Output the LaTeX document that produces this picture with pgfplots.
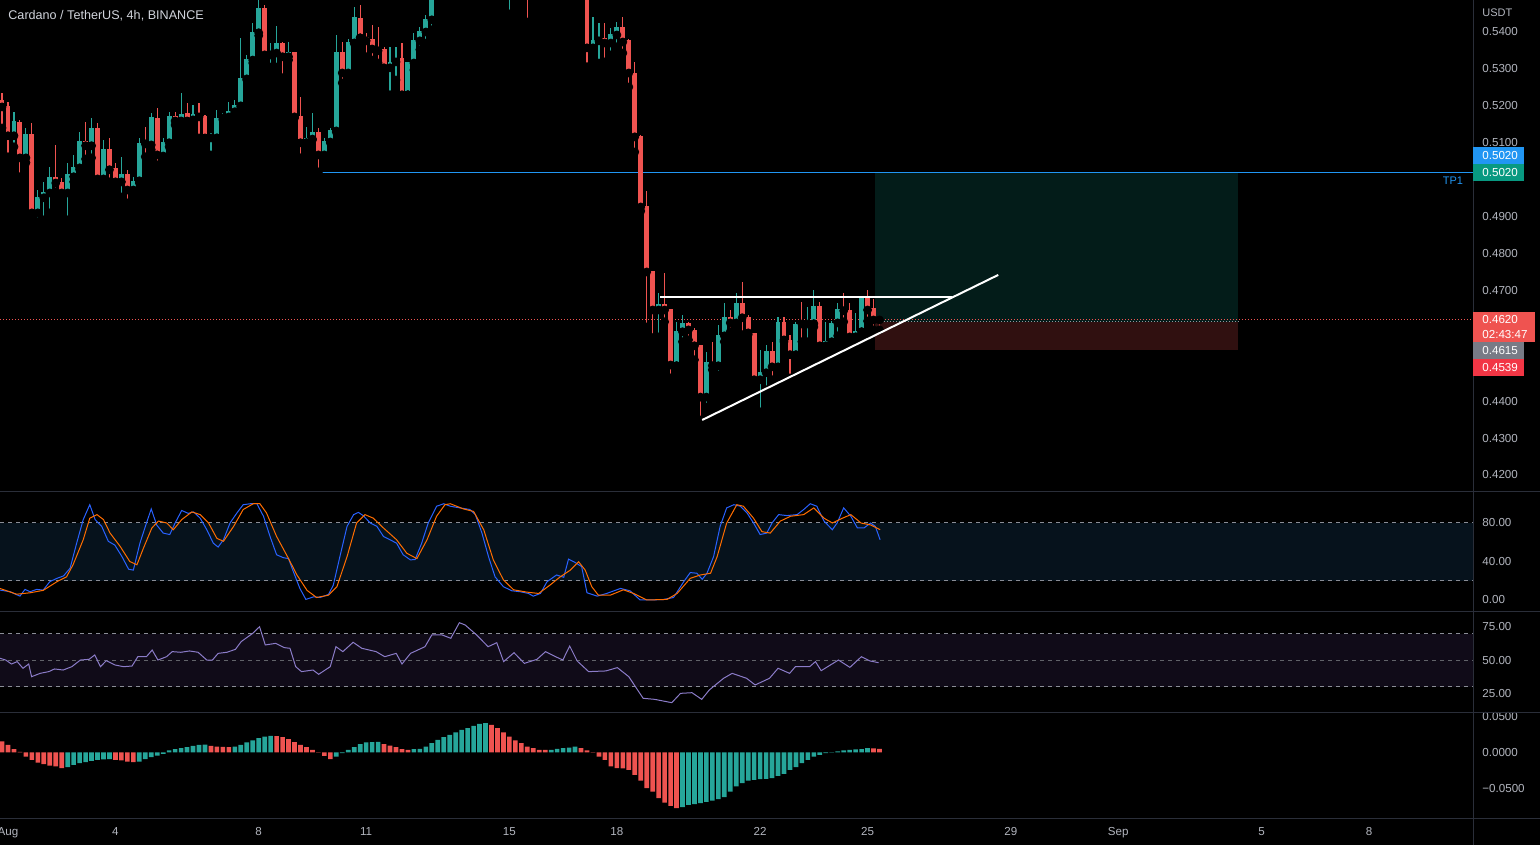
\documentclass[border=0pt]{standalone}
\usepackage{pgfplots}
\pgfplotsset{compat=1.18}
\usepackage{pgfplotstable}
\usepackage{fontspec}
\setmainfont{Liberation Sans}
\definecolor{upc}{HTML}{26A69A}
\definecolor{dnc}{HTML}{EF5350}
\definecolor{lbl}{HTML}{B2B5BE}
\definecolor{titlec}{HTML}{D1D4DC}
\definecolor{sepc}{HTML}{2A2E39}
\definecolor{tpblue}{HTML}{2196F3}
\definecolor{tagg}{HTML}{089981}
\definecolor{taggray}{HTML}{787B86}
\definecolor{tagred}{HTML}{F23645}
\definecolor{boxg}{HTML}{031C19}
\definecolor{boxr}{HTML}{301010}
\definecolor{stfill}{HTML}{06121C}
\definecolor{rsifill}{HTML}{100B18}
\definecolor{kblue}{HTML}{2962FF}
\definecolor{dorange}{HTML}{FF6D00}
\definecolor{rsil}{HTML}{8B7CC8}
\definecolor{dashc}{HTML}{8A8D96}

\pgfplotstableread{
i o h l c
1 .5119 .5184 .5089 .5159
3 .5059 .5140 .5046 .5124
5 .4910 .4972 .4886 .4953
6 .4951 .4994 .4891 .4967
7 .4964 .5035 .4910 .5008
10 .4964 .5046 .4891 .5016
11 .5008 .5067 .4994 .5035
12 .5032 .5129 .5027 .5105
14 .5092 .5167 .5059 .5140
16 .5002 .5108 .4994 .5083
19 .4994 .5062 .4953 .5016
21 .4972 .5008 .4964 .4997
22 .4997 .5113 .4991 .5100
24 .5094 .5181 .5081 .5170
26 .5064 .5113 .5056 .5102
27 .5100 .5184 .5089 .5173
29 .5159 .5235 .5148 .5178
31 .5162 .5203 .5151 .5178
34 .5113 .5127 .5067 .5116
35 .5113 .5189 .5113 .5167
36 .5167 .5181 .5162 .5170
37 .5170 .5211 .5167 .5186
38 .5184 .5216 .5181 .5203
39 .5200 .5384 .5197 .5276
40 .5273 .5338 .5270 .5327
41 .5324 .5425 .5316 .5400
42 .5398 .5500 .5390 .5465
44 .5338 .5370 .5305 .5346
45 .5343 .5417 .5305 .5370
47 .5333 .5373 .5324 .5346
50 .5100 .5143 .5100 .5113
51 .5110 .5181 .5108 .5129
53 .5067 .5113 .5062 .5105
54 .5102 .5140 .5100 .5135
55 .5132 .5392 .5129 .5346
57 .5289 .5381 .5286 .5373
58 .5370 .5468 .5370 .5441
64 .5303 .5360 .5230 .5319
65 .5319 .5360 .5270 .5330
67 .5230 .5319 .5230 .5319
68 .5316 .5398 .5297 .5379
69 .5376 .5414 .5352 .5403
70 .5400 .5446 .5370 .5436
71 .5433 .5530 .5406 .5510
72 .5510 .5580 .5500 .5560
74 .5545 .5640 .5530 .5620
75 .5620 .5720 .5600 .5700
77 .5660 .5710 .5630 .5690
79 .5650 .5750 .5640 .5730
80 .5730 .5830 .5710 .5800
84 .5560 .5640 .5449 .5600
85 .5600 .5680 .5580 .5650
88 .5540 .5600 .5476 .5570
89 .5570 .5620 .5476 .5600
91 .5580 .5640 .5560 .5620
93 .5600 .5630 .5560 .5610
98 .5357 .5441 .5338 .5379
99 .5376 .5425 .5316 .5384
101 .5370 .5411 .5338 .5395
102 .5392 .5427 .5360 .5414
109 .4647 .4693 .4574 .4663
112 .4496 .4615 .4496 .4590
113 .4588 .4634 .4561 .4612
117 .4411 .4534 .4384 .4506
119 .4496 .4607 .4471 .4580
120 .4577 .4666 .4561 .4628
122 .4612 .4693 .4593 .4666
126 .4458 .4539 .4371 .4479
127 .4477 .4553 .4431 .4536
129 .4493 .4628 .4490 .4615
132 .4526 .4615 .4523 .4610
134 .4609 .4656 .4561 .4612
135 .4610 .4701 .4601 .4658
137 .4550 .4615 .4545 .4563
138 .4561 .4617 .4558 .4612
139 .4612 .4666 .4577 .4650
142 .4574 .4639 .4574 .4590
143 .4588 .4685 .4588 .4685
}\upT

\pgfplotstableread{
i o h l c
-1 .5216 .5235 .5140 .5197
0 .5200 .5211 .5062 .5119
2 .5157 .5162 .5008 .5059
4 .5124 .5154 .4899 .4910
8 .5008 .5094 .4967 .4991
9 .4994 .5005 .4945 .4964
13 .5105 .5157 .5056 .5092
15 .5140 .5154 .4986 .5002
17 .5083 .5113 .4994 .5027
18 .5032 .5046 .4981 .4994
20 .5016 .5027 .4937 .4972
23 .5100 .5143 .5062 .5097
25 .5167 .5194 .5040 .5067
28 .5173 .5184 .5148 .5159
30 .5181 .5208 .5151 .5159
32 .5178 .5208 .5113 .5170
33 .5173 .5176 .5108 .5113
43 .5465 .5473 .5327 .5338
46 .5370 .5373 .5276 .5333
48 .5346 .5346 .5167 .5170
49 .5173 .5224 .5059 .5100
52 .5129 .5140 .5021 .5067
56 .5346 .5373 .5262 .5289
59 .5438 .5473 .5384 .5384
60 .5387 .5398 .5333 .5376
61 .5381 .5419 .5324 .5354
62 .5357 .5414 .5316 .5349
63 .5354 .5360 .5289 .5303
66 .5330 .5370 .5208 .5230
73 .5560 .5590 .5520 .5545
76 .5700 .5740 .5640 .5660
78 .5690 .5720 .5620 .5650
81 .5800 .5820 .5700 .5760
82 .5760 .5770 .5600 .5650
83 .5650 .5660 .5479 .5560
86 .5650 .5670 .5540 .5580
87 .5580 .5600 .5427 .5540
90 .5600 .5630 .5540 .5580
92 .5620 .5650 .5570 .5600
94 .5610 .5640 .5560 .5590
95 .5590 .5610 .5530 .5570
96 .5570 .5590 .5510 .5540
97 .5540 .5560 .5306 .5357
100 .5384 .5425 .5319 .5370
103 .5414 .5441 .5343 .5373
104 .5379 .5381 .5251 .5289
105 .5289 .5319 .5075 .5116
106 .5119 .5121 .4915 .4926
107 .4929 .4970 .4601 .4750
108 .4753 .4753 .4572 .4647
110 .4663 .4747 .4615 .4647
111 .4650 .4650 .4463 .4498
114 .4612 .4615 .4566 .4593
115 .4593 .4598 .4512 .4550
116 .4553 .4553 .4349 .4411
118 .4506 .4561 .4485 .4496
121 .4628 .4647 .4588 .4612
123 .4666 .4723 .4580 .4626
124 .4628 .4634 .4580 .4585
125 .4585 .4585 .4452 .4458
128 .4536 .4561 .4458 .4493
130 .4615 .4628 .4561 .4566
131 .4566 .4580 .4463 .4526
133 .4612 .4669 .4561 .4609
136 .4658 .4669 .4539 .4550
140 .4653 .4693 .4615 .4645
141 .4647 .4666 .4566 .4574
144 .4685 .4701 .4617 .4647
145 .4653 .4677 .4593 .4620
146 .4623 .4626 .4593 .4620
}\dnT

\pgfplotstableread{
i v
10 -0.0204
11 -0.0171
12 -0.0149
13 -0.0135
14 -0.0115
15 -0.0101
16 -0.0097
17 -0.0093
22 -0.0125
23 -0.0093
24 -0.0065
25 -0.0042
26 -0.0018
27 0.0028
28 0.0046
29 0.0060
30 0.0074
31 0.0093
32 0.0107
33 0.0111
38 0.0083
39 0.0107
40 0.0139
41 0.0167
42 0.0199
43 0.0222
44 0.0232
55 -0.0056
56 -0.0010
57 0.0038
58 0.0074
59 0.0115
60 0.0139
61 0.0143
62 0.0146
68 0.0046
69 0.0051
70 0.0083
71 0.0129
72 0.0176
73 0.0213
74 0.0246
75 0.0278
76 0.0315
77 0.0338
78 0.0371
79 0.0399
80 0.0407
91 0.0038
92 0.0051
93 0.0060
94 0.0069
95 0.0083
113 -0.0760
114 -0.0726
115 -0.0718
116 -0.0704
117 -0.0685
118 -0.0667
119 -0.0649
120 -0.0621
121 -0.0542
122 -0.0472
123 -0.0426
124 -0.0389
125 -0.0379
126 -0.0371
127 -0.0368
128 -0.0357
129 -0.0324
130 -0.0296
131 -0.0240
132 -0.0204
133 -0.0149
134 -0.0101
135 -0.0056
136 -0.0032
137 -0.0010
138 0.0004
139 0.0014
140 0.0028
141 0.0038
142 0.0042
143 0.0046
144 0.0060
}\macdUp

\pgfplotstableread{
i v
-1 0.0153
0 0.0107
1 0.0046
2 0.0010
3 -0.0056
4 -0.0101
5 -0.0139
6 -0.0163
7 -0.0181
8 -0.0194
9 -0.0218
18 -0.0101
19 -0.0111
20 -0.0125
21 -0.0135
34 0.0093
35 0.0083
36 0.0079
37 0.0074
45 0.0226
46 0.0213
47 0.0185
48 0.0143
49 0.0107
50 0.0074
51 0.0038
52 0.0004
53 -0.0046
54 -0.0093
63 0.0115
64 0.0097
65 0.0074
66 0.0046
67 0.0038
81 0.0385
82 0.0338
83 0.0278
84 0.0222
85 0.0167
86 0.0129
87 0.0083
88 0.0060
89 0.0038
90 0.0035
96 0.0060
97 0.0028
98 0.0004
99 -0.0056
100 -0.0101
101 -0.0194
102 -0.0218
103 -0.0222
104 -0.0240
105 -0.0310
106 -0.0389
107 -0.0496
108 -0.0542
109 -0.0635
110 -0.0695
111 -0.0740
112 -0.0774
145 0.0057
146 0.0051
}\macdDn

\pgfplotsset{
  panel/.style={
    scale only axis, width=736.5pt,
    xmin=-1.340, xmax=245.43,
    axis line style={draw=none},
    xtick=\empty,
    major tick length=0pt,
    ytick style={draw=none},
    xtick style={draw=none},
    scaled y ticks=false,
    scaled x ticks=false,
    yticklabel pos=right,
    tick label style={font=\fontsize{5.8}{7}\selectfont, text=lbl},
    yticklabel style={anchor=west, inner sep=0pt, xshift=4.5pt},
    clip=true,
  },
  wick/.style={only marks, mark=none, error bars/.cd, y dir=plus, y explicit,
    error mark=none, error bar style={line width=0.55pt, color=#1}},
  body/.style={only marks, mark=none, error bars/.cd, y dir=plus, y explicit,
    error mark=none, error bar style={line width=2.45pt, color=#1}},
}

\begin{document}
\begin{tikzpicture}
\fill[black] (0,0) rectangle (770pt,422.5pt);

% ---------- main price panel ----------
\begin{axis}[panel, at={(0pt,177pt)}, anchor=south west, height=245.5pt,
  ymin=0.415666, ymax=0.548668,
  ytick={0.42,0.43,0.44,0.47,0.48,0.49,0.51,0.52,0.53,0.54},
  yticklabels={0.4200,0.4300,0.4400,0.4700,0.4800,0.4900,0.5100,0.5200,0.5300,0.5400}]
% long position box
\addplot[fill=boxg, draw=none] coordinates {(145.25,0.4615) (206.07,0.4615) (206.07,0.5020) (145.25,0.5020)} -- cycle;
\addplot[fill=boxr, draw=none] coordinates {(145.25,0.4539) (206.07,0.4539) (206.07,0.4615) (145.25,0.4615)} -- cycle;
% TP1 line
\addplot[tpblue, line width=0.5pt] coordinates {(51.9,0.5020) (245.43,0.5020)};
% current price dotted line
\addplot[dnc, line width=0.5pt, dash pattern=on 0.5pt off 1pt] coordinates {(-1.34,0.4620) (245.43,0.4620)};
\addplot[taggray!80!white, line width=0.5pt, dash pattern=on 0.5pt off 1pt] coordinates {(145.25,0.4615) (206.07,0.4615)};
% candles
\addplot[wick=upc] table[x=i, y=l, y error plus expr=\thisrow{h}-\thisrow{l}] {\upT};
\addplot[body=upc] table[x=i, y=o, y error plus expr=\thisrow{c}-\thisrow{o}] {\upT};
\addplot[wick=dnc] table[x=i, y=l, y error plus expr=\thisrow{h}-\thisrow{l}] {\dnT};
\addplot[body=dnc] table[x=i, y=c, y error plus expr=\thisrow{o}-\thisrow{c}] {\dnT};
\end{axis}

% overlay axis for drawn trend lines (on top of candles)
\begin{axis}[panel, at={(0pt,177pt)}, anchor=south west, height=245.5pt,
  ymin=0.415666, ymax=0.548668, ytick=\empty]
\addplot[white, line width=1pt] coordinates {(109.3,0.4683) (158.2,0.4683)};
\addplot[white, line width=1pt] coordinates {(116.3,0.4349) (165.9,0.4742)};
\end{axis}

% ---------- stochastic RSI ----------
\begin{axis}[panel, at={(0pt,117pt)}, anchor=south west, height=59.5pt,
  ymin=-11.43, ymax=112.2,
  ytick={0,40,80}, yticklabels={0.00,40.00,80.00}]
\addplot[fill=stfill, draw=none] coordinates {(-1.34,20) (245.43,20) (245.43,80) (-1.34,80)} -- cycle;
\addplot[dashc, line width=0.5pt, dash pattern=on 2pt off 2pt] coordinates {(-1.34,80) (245.43,80)};
\addplot[dashc, line width=0.5pt, dash pattern=on 2pt off 2pt] coordinates {(-1.34,20) (245.43,20)};
\addplot[kblue, line width=0.5pt] coordinates {
(-1.34,10.3) (0.34,8.6) (2.0,4) (2.85,11) (3.7,8.6) (4.8,11) (5.9,10.3) (7.0,19) (8.2,22.5) (9.3,25)
(10.4,33) (11.5,59) (12.6,83.5) (13.7,99) (14.6,83.5) (15.7,76.5) (16.8,61) (17.9,57) (19.1,45) (20.2,32)
(21.0,31) (22.1,59) (23.2,80) (24.0,94.6) (24.9,78) (26.0,69.5) (27.1,68) (28.0,80) (29.1,93) (30.2,90)
(31.1,91.5) (32.2,85) (33.3,73) (34.4,59) (35.2,55) (36.1,62.6) (37.2,80) (38.3,90) (39.4,99) (40.6,100)
(41.7,100) (42.8,87) (43.9,66) (45.0,47) (46.1,44) (47.0,43) (47.8,29.5) (48.9,12) (49.9,0.6) (51.2,3.3)
(52.3,2.6) (53.7,5.8) (54.5,15.5) (55.6,45) (56.8,76.5) (57.9,88.7) (58.7,91) (59.5,87.7) (60.7,80) (61.8,76.5)
(62.9,66) (64.0,62.6) (65.1,59) (66.2,47) (67.4,41.7) (68.2,42) (69.3,59) (70.4,80) (71.8,97.4) (73.0,100)
(74.1,97.4) (75.7,95.7) (77.4,94) (78.3,88.7) (79.4,69.5) (80.5,45) (81.6,24) (83.0,13.8) (84.4,9.6) (85.8,8.6)
(87.2,6.8) (88.0,4) (89.2,6.8) (90.3,19) (91.9,26) (93.1,23.6) (93.9,42.4) (95.0,39) (96.1,34.7) (97.0,7.5)
(98.7,4) (100.3,6.8) (102.6,12) (104.2,9.6) (105.9,0) (107.6,0) (109.8,0.5) (111.5,2.6) (113.2,19) (114.3,28.5)
(115.4,27.8) (116.3,21.5) (117.1,27.8) (118.2,45) (119.3,76.5) (120.4,95.7) (121.6,99) (122.7,97.4) (123.8,90.5) (124.9,80)
(126.0,68) (127.1,69.5) (128.0,80) (129.1,88.7) (130.5,87.7) (132.2,88.7) (133.3,94) (134.4,100) (135.5,97.4) (136.7,82)
(138.1,73) (138.9,80) (140.0,95.7) (141.2,87) (142.3,74.8) (143.4,74.8) (144.5,80) (145.3,76.5) (146.1,62.6)};
\addplot[dorange, line width=0.5pt] coordinates {
(-1.34,12) (1.45,6) (3.7,7.5) (5.9,10) (8.2,19) (9.8,24) (10.9,36.6) (12.6,62.6) (13.7,85) (14.9,88.7)
(16.0,83.5) (17.1,69.5) (18.8,55.6) (20.4,40) (21.6,36.6) (22.7,54) (24.1,74.8) (25.2,82) (26.6,80) (27.7,73)
(29.1,83.5) (30.8,91.5) (32.2,88.7) (33.6,80) (35.0,64) (36.1,61) (37.8,76.5) (39.4,94) (41.1,100) (42.2,100)
(43.3,90.5) (45.0,66) (47.0,43) (48.4,26) (50.1,10) (51.7,2.6) (53.7,5) (55.1,13.8) (56.8,45) (58.4,80)
(59.8,88.7) (61.2,85) (62.9,74.8) (65.1,62.6) (66.8,48.6) (68.5,43) (70.2,62.6) (71.8,87) (73.2,99) (74.1,100)
(76.3,94.6) (78.0,92) (79.7,73) (81.3,41.7) (83.0,20.8) (84.7,10.6) (86.9,8.2) (88.9,6.8) (90.8,15.5) (92.5,24)
(94.2,31) (95.6,39.7) (96.7,31) (97.8,13.8) (98.9,5) (100.9,5) (103.1,10.6) (104.8,6.8) (107.0,0) (110.4,0.6)
(112.1,6.8) (114.3,22.5) (116.0,26) (117.7,27.8) (118.8,45) (120.4,80) (122.1,99) (123.2,97.4) (124.9,85) (126.3,71)
(127.7,69.5) (129.4,82) (131.1,87) (133.3,88.7) (135.0,95.7) (136.7,85) (138.1,80) (139.8,85) (141.2,88.7) (142.9,80)
(144.5,78) (146.1,73)};
\end{axis}

% ---------- RSI ----------
\begin{axis}[panel, at={(0pt,66.5pt)}, anchor=south west, height=50pt,
  ymin=11.21, ymax=86.23,
  ytick={25,50,75}, yticklabels={25.00,50.00,75.00}]
\addplot[fill=rsifill, draw=none] coordinates {(-1.34,30) (245.43,30) (245.43,70) (-1.34,70)} -- cycle;
\addplot[dashc, line width=0.5pt, dash pattern=on 2pt off 2pt] coordinates {(-1.34,70) (245.43,70)};
\addplot[dashc!70!black, line width=0.5pt, dash pattern=on 2pt off 2pt] coordinates {(-1.34,50) (245.43,50)};
\addplot[dashc, line width=0.5pt, dash pattern=on 2pt off 2pt] coordinates {(-1.34,30) (245.43,30)};
\addplot[rsil, line width=0.5pt] coordinates {
(-1.34,51.5) (-0.38,50.2) (0.58,47.2) (1.54,49) (2.51,44) (3.47,47.2) (3.95,37.7) (5.39,40.2) (6.84,41.5) (7.80,43.5)
(9.24,42.7) (10.69,45.2) (12.13,50.2) (13.57,50.7) (14.53,54) (15.49,45.2) (16.46,49.7) (17.9,46.5) (19.35,45.2) (20.78,45.7)
(21.75,52.7) (23.19,52.7) (24.15,57.7) (25.12,50.2) (26.56,52.7) (27.52,56.5) (28.96,56) (30.4,57) (31.85,56) (33.3,50.2)
(34.25,50.2) (35.21,55.2) (36.66,56) (38.1,58.2) (39.06,64) (40.99,70.2) (42.14,75.2) (43.1,61.5) (44.83,62.7) (46.28,59.5)
(47.24,59) (48.2,45.2) (49.17,41.5) (51.1,42.7) (52.05,39.5) (53.98,45.2) (54.94,60.2) (56.1,56.5) (57.82,63.5) (59.27,59)
(61.67,56.5) (63.11,52.7) (65.04,55.2) (66.0,47.2) (67.44,55.2) (69.85,60.2) (71.0,69) (72.73,69) (74.18,66.5) (75.62,78.2)
(76.58,76.5) (78.51,69) (80.43,60.2) (81.88,63.2) (83.03,49) (84.77,55.7) (86.5,47.7) (88.61,50.7) (90.06,56.5) (91.5,53.2)
(92.95,50.2) (94.1,60.7) (95.35,49.5) (97.27,41.5) (100.15,42) (102.08,44.5) (104.0,37.7) (106.4,21.5) (108.33,20.7) (111.2,18.2)
(112.67,25.2) (114.58,25.7) (116.22,20.7) (117.48,27.7) (119.88,36.5) (121.32,40.2) (123.73,36.5) (125.17,31.5) (127.57,36.5) (129.01,44)
(130.94,40.2) (131.9,45.2) (134.3,45.2) (135.27,49) (136.23,42.2) (139.12,50.2) (141.04,44.7) (142.97,52.7) (144.41,49.5) (145.85,48.2)};
\end{axis}

% ---------- MACD histogram ----------
\begin{axis}[panel, at={(0pt,13.5pt)}, anchor=south west, height=52.5pt,
  ymin=-0.09097, ymax=0.05486,
  ytick={-0.05,0,0.05}, yticklabels={−0.0500,0.0000,0.0500},
  xtick={0,18,42,60,84,102,126,144,168,186,210,228},
  xticklabels={Aug,4,8,11,15,18,22,25,29,Sep,5,8},
  xticklabel style={anchor=base, inner sep=0pt, yshift=-9pt}]
\addplot[ybar, bar width=0.78, bar shift=0pt, fill=upc, draw=none] table[x=i, y=v] {\macdUp};
\addplot[ybar, bar width=0.78, bar shift=0pt, fill=dnc, draw=none] table[x=i, y=v] {\macdDn};
\end{axis}

% ---------- separators ----------
\draw[sepc, line width=0.5pt] (0,176.75pt) -- (770pt,176.75pt);
\draw[sepc, line width=0.5pt] (0,116.75pt) -- (770pt,116.75pt);
\draw[sepc, line width=0.5pt] (0,66.25pt) -- (770pt,66.25pt);
\draw[sepc, line width=0.5pt] (0,13.25pt) -- (770pt,13.25pt);
\draw[sepc, line width=0.5pt] (736.75pt,0) -- (736.75pt,422.5pt);

% ---------- texts and tags ----------
\node[anchor=west, inner sep=0pt, text=titlec, font=\fontsize{6.3}{7.5}\selectfont] at (4pt,414.5pt) {Cardano / TetherUS, 4h, BINANCE};
\node[anchor=west, inner sep=0pt, text=lbl, font=\fontsize{5.5}{7}\selectfont] at (741pt,416pt) {USDT};
\node[inner sep=0pt, text=tpblue, font=\fontsize{5.5}{7}\selectfont] at (726.5pt,332pt) {TP1};

\fill[tpblue] (736.5pt,340.5pt) rectangle (762pt,349pt);
\node[anchor=west, inner sep=0pt, text=white, font=\fontsize{5.8}{7}\selectfont] at (741pt,344.75pt) {0.5020};
\fill[tagg] (736.5pt,332pt) rectangle (762pt,340.5pt);
\node[anchor=west, inner sep=0pt, text=white, font=\fontsize{5.8}{7}\selectfont] at (741pt,336.25pt) {0.5020};
\fill[dnc] (736.5pt,251.5pt) rectangle (767.5pt,266.5pt);
\node[anchor=west, inner sep=0pt, text=white, font=\fontsize{5.8}{7}\selectfont] at (741pt,262.5pt) {0.4620};
\node[anchor=west, inner sep=0pt, text=white, font=\fontsize{5.8}{7}\selectfont] at (741pt,255pt) {02:43:47};
\fill[taggray] (736.5pt,243pt) rectangle (762pt,251.5pt);
\node[anchor=west, inner sep=0pt, text=white, font=\fontsize{5.8}{7}\selectfont] at (741pt,247.25pt) {0.4615};
\fill[tagred] (736.5pt,234.5pt) rectangle (762pt,243pt);
\node[anchor=west, inner sep=0pt, text=white, font=\fontsize{5.8}{7}\selectfont] at (741pt,238.75pt) {0.4539};

\pgfresetboundingbox
\path[use as bounding box] (0,0) rectangle (770pt,422.5pt);
\end{tikzpicture}
\end{document}
